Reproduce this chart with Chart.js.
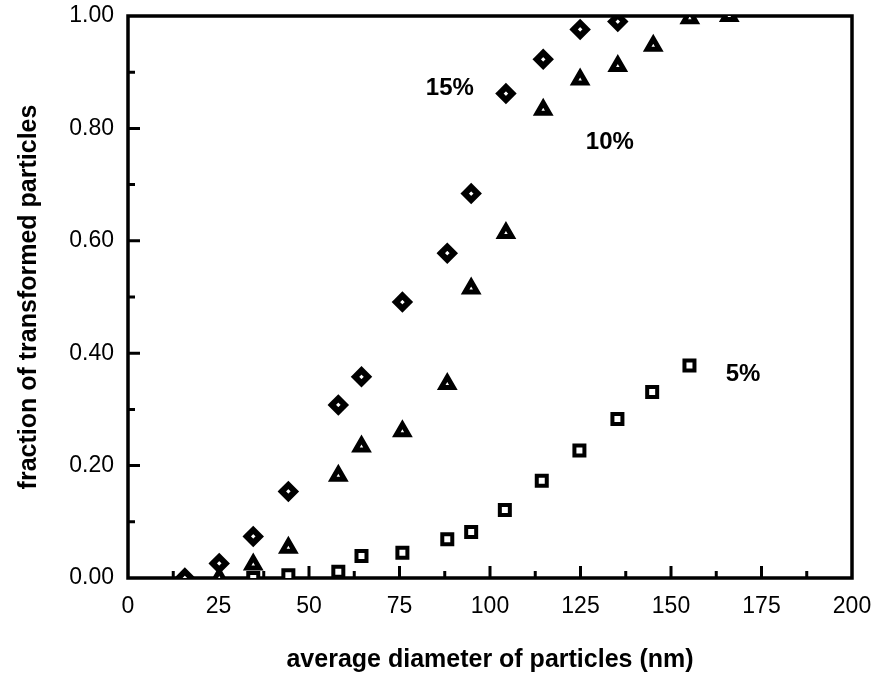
<!DOCTYPE html>
<html>
<head>
<meta charset="utf-8">
<script src="https://cdn.jsdelivr.net/npm/chart.js@4/dist/chart.umd.min.js"></script>
<style>
  body { margin: 0; background: #fff; }
  #wrap { width: 879px; height: 682px; }
</style>
</head>
<body>
<div id="wrap"><canvas id="chart"></canvas></div>
<script>
// 15% series (diamonds)
var x15 = [15.7, 25.2, 34.6, 44.3, 58.1, 64.5, 75.8, 88.2, 94.8, 104.4, 114.7, 124.9, 135.3];
var y15 = [0.000, 0.026, 0.074, 0.154, 0.308, 0.358, 0.491, 0.578, 0.684, 0.862, 0.923, 0.976, 0.990];

// 10% series (triangles)
var x10 = [25.2, 34.6, 44.3, 58.1, 64.5, 75.8, 88.2, 94.8, 104.4, 114.7, 124.9, 135.3, 145.1, 155.2, 166.1];
var y10 = [0.000, 0.024, 0.054, 0.182, 0.234, 0.261, 0.345, 0.515, 0.614, 0.833, 0.887, 0.911, 0.947, 0.996, 1.000];

// 5% series (squares)
var x5 = [34.6, 44.3, 58.1, 64.5, 75.8, 88.2, 94.8, 104.1, 114.3, 124.7, 135.2, 144.8, 155.1];
var y5 = [0.000, 0.005, 0.011, 0.039, 0.045, 0.069, 0.082, 0.121, 0.173, 0.227, 0.283, 0.331, 0.378];

// series labels written inside the plot
var noteText = ['15%', '10%', '5%'];
var noteX = [88.9, 133.1, 169.9];
var noteY = [0.871, 0.776, 0.362];

// tick positions
var xMinor = [12.5, 37.5, 62.5, 87.5, 112.5, 137.5, 162.5, 187.5];
var xMajor = [25, 50, 75, 100, 125, 150, 175];
var yMinor = [0.1, 0.3, 0.5, 0.7, 0.9];
var yMajor = [0.2, 0.4, 0.6, 0.8];

function pts(xs, ys) {
    return xs.map(function(v, i) { return { x: v, y: ys[i] }; });
}

var fontName = '"Liberation Sans", Arial, sans-serif';

// frame and inward ticks
var framePlugin = {
    id: 'frame',
    beforeDatasetsDraw: function(chart) {
        var c = chart.ctx, a = chart.chartArea;
        var xs = chart.scales.x, ys = chart.scales.y;
        c.save();
        c.strokeStyle = '#000';
        c.lineWidth = 3;
        c.beginPath();
        xMajor.forEach(function(v) { var p = xs.getPixelForValue(v); c.moveTo(p, a.bottom); c.lineTo(p, a.bottom - 12); });
        xMinor.forEach(function(v) { var p = xs.getPixelForValue(v); c.moveTo(p, a.bottom); c.lineTo(p, a.bottom - 7); });
        yMajor.forEach(function(v) { var p = ys.getPixelForValue(v); c.moveTo(a.left, p); c.lineTo(a.left + 12, p); });
        yMinor.forEach(function(v) { var p = ys.getPixelForValue(v); c.moveTo(a.left, p); c.lineTo(a.left + 7, p); });
        c.stroke();
        c.lineWidth = 3.5;
        c.strokeRect(a.left, a.top, a.right - a.left, a.bottom - a.top);
        c.restore();
    },
    afterDraw: function(chart) {
        var c = chart.ctx;
        var xs = chart.scales.x, ys = chart.scales.y;
        c.save();
        c.fillStyle = '#000';
        c.font = 'bold 24px ' + fontName;
        c.textAlign = 'center';
        c.textBaseline = 'middle';
        noteText.forEach(function(t, i) {
            c.fillText(t, xs.getPixelForValue(noteX[i]), ys.getPixelForValue(noteY[i]));
        });
        c.restore();
    }
};

var ctx = document.getElementById('chart').getContext('2d');
var chart = new Chart(ctx, {
    type: 'scatter',
    data: {
        datasets: [{
            label: '15%',
            data: pts(x15, y15),
            pointStyle: 'rectRot',
            pointRadius: 6.5,
            pointBorderWidth: 6,
            pointBackgroundColor: '#fff',
            pointBorderColor: '#000'
        }, {
            label: '10%',
            data: pts(x10, y10),
            pointStyle: 'triangle',
            pointRadius: 7,
            pointBorderWidth: 5,
            pointBackgroundColor: '#fff',
            pointBorderColor: '#000'
        }, {
            label: '5%',
            data: pts(x5, y5),
            pointStyle: 'rect',
            pointRadius: 7.07,
            pointBorderWidth: 4,
            pointBackgroundColor: '#fff',
            pointBorderColor: '#000'
        }]
    },
    options: {
        responsive: true,
        maintainAspectRatio: false,
        animation: false,
        layout: { padding: { left: 0, right: 27, top: 16, bottom: 0 } },
        plugins: {
            legend: { display: false },
            tooltip: { enabled: false }
        },
        scales: {
            x: {
                type: 'linear',
                min: 0,
                max: 200,
                grid: { display: false, drawTicks: false },
                border: { display: false },
                ticks: {
                    stepSize: 25,
                    padding: 15,
                    color: '#000',
                    font: { family: fontName, size: 23 }
                },
                title: {
                    display: true,
                    text: 'average diameter of particles (nm)',
                    color: '#000',
                    font: { family: fontName, size: 25, weight: 'bold' },
                    padding: { top: 0, bottom: 7 }
                },
                afterFit: function(s) {
                    s.height = 104;
                    s.paddingLeft = 0;
                    s.paddingRight = 0;
                }
            },
            y: {
                type: 'linear',
                min: 0,
                max: 1,
                grid: { display: false, drawTicks: false },
                border: { display: false },
                ticks: {
                    stepSize: 0.2,
                    padding: 14,
                    color: '#000',
                    font: { family: fontName, size: 23 },
                    callback: function(v) { return v.toFixed(2); }
                },
                title: {
                    display: true,
                    text: 'fraction of transformed particles',
                    color: '#000',
                    font: { family: fontName, size: 25, weight: 'bold' },
                    padding: { top: 14, bottom: 0 }
                },
                afterFit: function(s) {
                    s.width = 128;
                    s.paddingTop = 0;
                    s.paddingBottom = 0;
                }
            }
        }
    },
    plugins: [framePlugin]
});
</script>
</body>
</html>
